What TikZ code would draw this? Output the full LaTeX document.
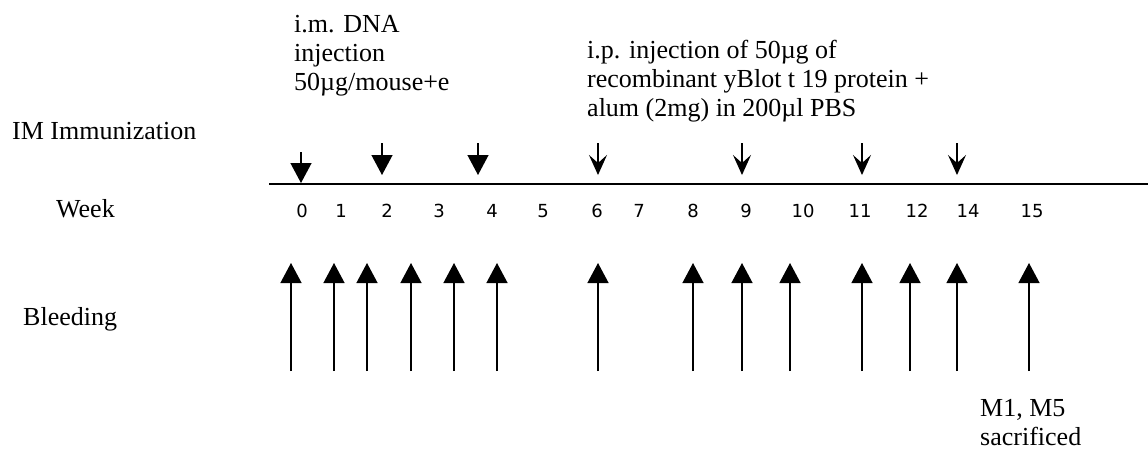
\documentclass[tikz,border=0pt]{standalone}
\usepackage{fontspec}
\setmainfont{Liberation Serif}
\newfontfamily\numfont{DejaVu Sans}
\usetikzlibrary{arrows.meta}
\begin{document}
\begin{tikzpicture}[x=1pt,y=-1pt,
  % multi-line labels are anchored at the baseline of their last line
  label/.style={inner sep=0pt,anchor=base west,align=left,
    font=\fontsize{26}{29}\selectfont},
  weeknum/.style={inner sep=0pt,anchor=base,font=\numfont\fontsize{18}{20}\selectfont},
  axis/.style={line width=2pt},
  dnashot/.style={line width=1.3pt,-{Triangle[length=20pt,width=21pt]}},
  ipshot/.style={line width=1.3pt,-{Stealth[length=20pt,width=18pt,inset=8pt]}},
  bleed/.style={line width=1.3pt,-{Triangle[length=20pt,width=21pt]}}]
\useasboundingbox (0,0) rectangle (1148,450);

% row labels
\node[label] (imm) at (12,139) {IM Immunization};
\node[label] (week) at (56,217) {Week};
\node[label] (bleeding) at (23,325) {Bleeding};

% injection notes
\node[label] (dna) at (294,90) {i.m. DNA\\injection\\50µg/mouse+e};
\node[label] (ip) at (587,116) {i.p. injection of 50µg of\\recombinant yBlot t 19 protein +\\alum (2mg) in 200µl PBS};
\node[label] (sac) at (980,445) {M1, M5\\sacrificed};

% time axis
\coordinate (axL) at (269,184);
\coordinate (axR) at (1148,184);
\draw[axis] (axL) -- (axR);

% week numbers
\foreach \n/\x in {0/302,1/341,2/387,3/439,4/492,5/543,6/597,7/639,8/693,
                   9/746,10/803,11/860,12/917,14/968,15/1032}
  \node[weeknum] (w\n) at (\x,217) {\n};

% DNA injections
\coordinate (d0s) at (301,152); \coordinate (d0e) at (301,183);
\draw[dnashot] (d0s) -- (d0e);
\foreach \i/\x in {1/382,2/478}{
  \coordinate (d\i s) at (\x,143); \coordinate (d\i e) at (\x,175);
  \draw[dnashot] (d\i s) -- (d\i e);
}

% protein boosts
\foreach \i/\x in {1/598,2/742,3/862,4/957}{
  \coordinate (p\i s) at (\x,143); \coordinate (p\i e) at (\x,175);
  \draw[ipshot] (p\i s) -- (p\i e);
}

% bleeding time points
\foreach \i/\x in {1/291,2/334,3/367,4/411,5/454,6/497,7/598,8/693,9/742,
                   10/790,11/862,12/910,13/957,14/1029}{
  \coordinate (b\i s) at (\x,371); \coordinate (b\i e) at (\x,263);
  \draw[bleed] (b\i s) -- (b\i e);
}
\end{tikzpicture}
\end{document}
